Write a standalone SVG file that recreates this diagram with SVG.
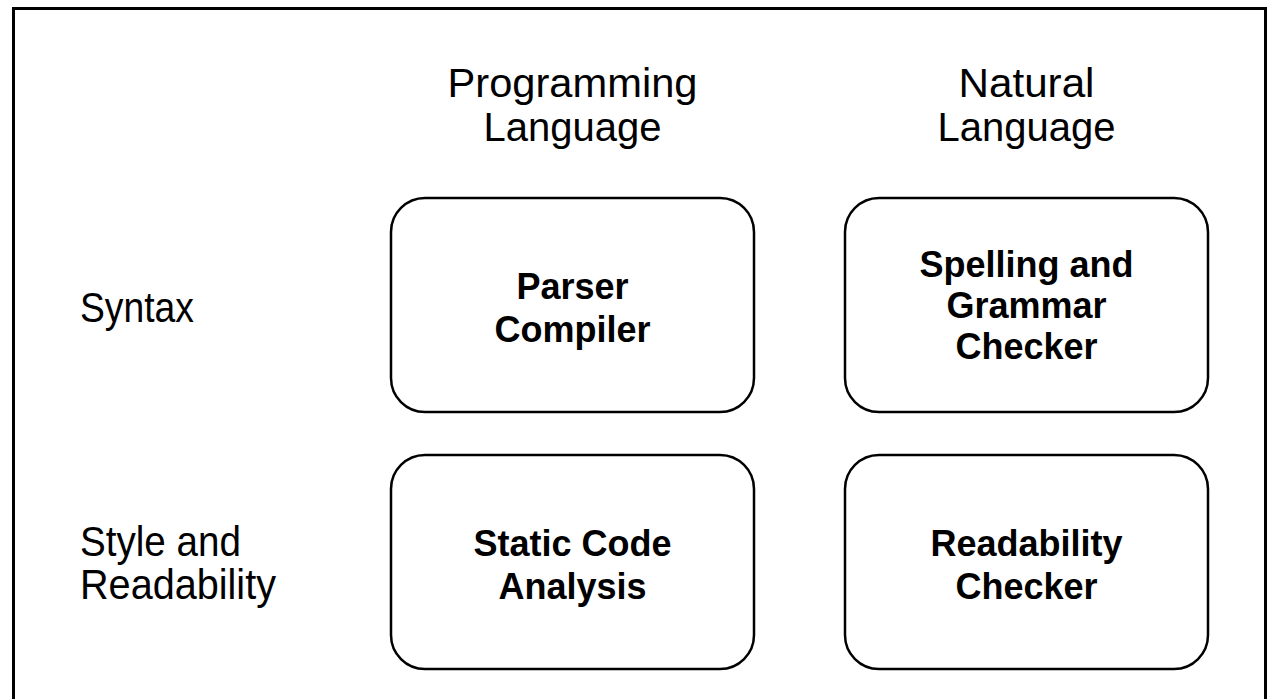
<svg xmlns="http://www.w3.org/2000/svg" width="1274" height="699" viewBox="0 0 1274 699">
  <style>
    .frame { fill: #ffffff; stroke: #000000; stroke-width: 3; }
    .box { fill: #ffffff; stroke: #000000; stroke-width: 2.5; }
    .head { font-family: "Liberation Sans", Arial, sans-serif; font-size: 41px; fill: #000000; text-anchor: middle; }
    .label { font-family: "Liberation Sans", Arial, sans-serif; font-size: 42px; fill: #000000; }
    .node { font-family: "Liberation Sans", Arial, sans-serif; font-size: 36px; font-weight: bold; fill: #000000; text-anchor: middle; }
  </style>
  <rect width="1274" height="699" fill="#ffffff"/>
  <!-- outer frame, open at the bottom edge -->
  <path class="frame" d="M13.5,705 L13.5,8.5 L1265.5,8.5 L1265.5,705"/>

  <!-- column headings -->
  <g id="col-programming">
    <text class="head" x="572.5" y="97" textLength="250" lengthAdjust="spacingAndGlyphs">Programming</text>
    <text class="head" x="572.5" y="141" textLength="178" lengthAdjust="spacingAndGlyphs">Language</text>
  </g>
  <g id="col-natural">
    <text class="head" x="1026.5" y="97" textLength="136" lengthAdjust="spacingAndGlyphs">Natural</text>
    <text class="head" x="1026.5" y="141" textLength="178" lengthAdjust="spacingAndGlyphs">Language</text>
  </g>

  <!-- row headings -->
  <g id="row-syntax">
    <text class="label" x="80" y="322" textLength="114" lengthAdjust="spacingAndGlyphs">Syntax</text>
  </g>
  <g id="row-style">
    <text class="label" x="80" y="556" textLength="161" lengthAdjust="spacingAndGlyphs">Style and</text>
    <text class="label" x="80" y="599" textLength="196" lengthAdjust="spacingAndGlyphs">Readability</text>
  </g>

  <!-- cells -->
  <g id="parser-compiler">
    <rect class="box" x="391" y="198" width="363" height="214" rx="34" ry="34"/>
    <text class="node" x="572.5" y="299">Parser</text>
    <text class="node" x="572.5" y="342">Compiler</text>
  </g>
  <g id="spelling-grammar-checker">
    <rect class="box" x="845" y="198" width="363" height="214" rx="34" ry="34"/>
    <text class="node" x="1026.5" y="277">Spelling and</text>
    <text class="node" x="1026.5" y="318">Grammar</text>
    <text class="node" x="1026.5" y="359">Checker</text>
  </g>
  <g id="static-code-analysis">
    <rect class="box" x="391" y="455" width="363" height="214" rx="34" ry="34"/>
    <text class="node" x="572.5" y="556">Static Code</text>
    <text class="node" x="572.5" y="599">Analysis</text>
  </g>
  <g id="readability-checker">
    <rect class="box" x="845" y="455" width="363" height="214" rx="34" ry="34"/>
    <text class="node" x="1026.5" y="556">Readability</text>
    <text class="node" x="1026.5" y="599">Checker</text>
  </g>

  <!-- no connectors in this grid -->
  <g id="connectors"/>
</svg>
